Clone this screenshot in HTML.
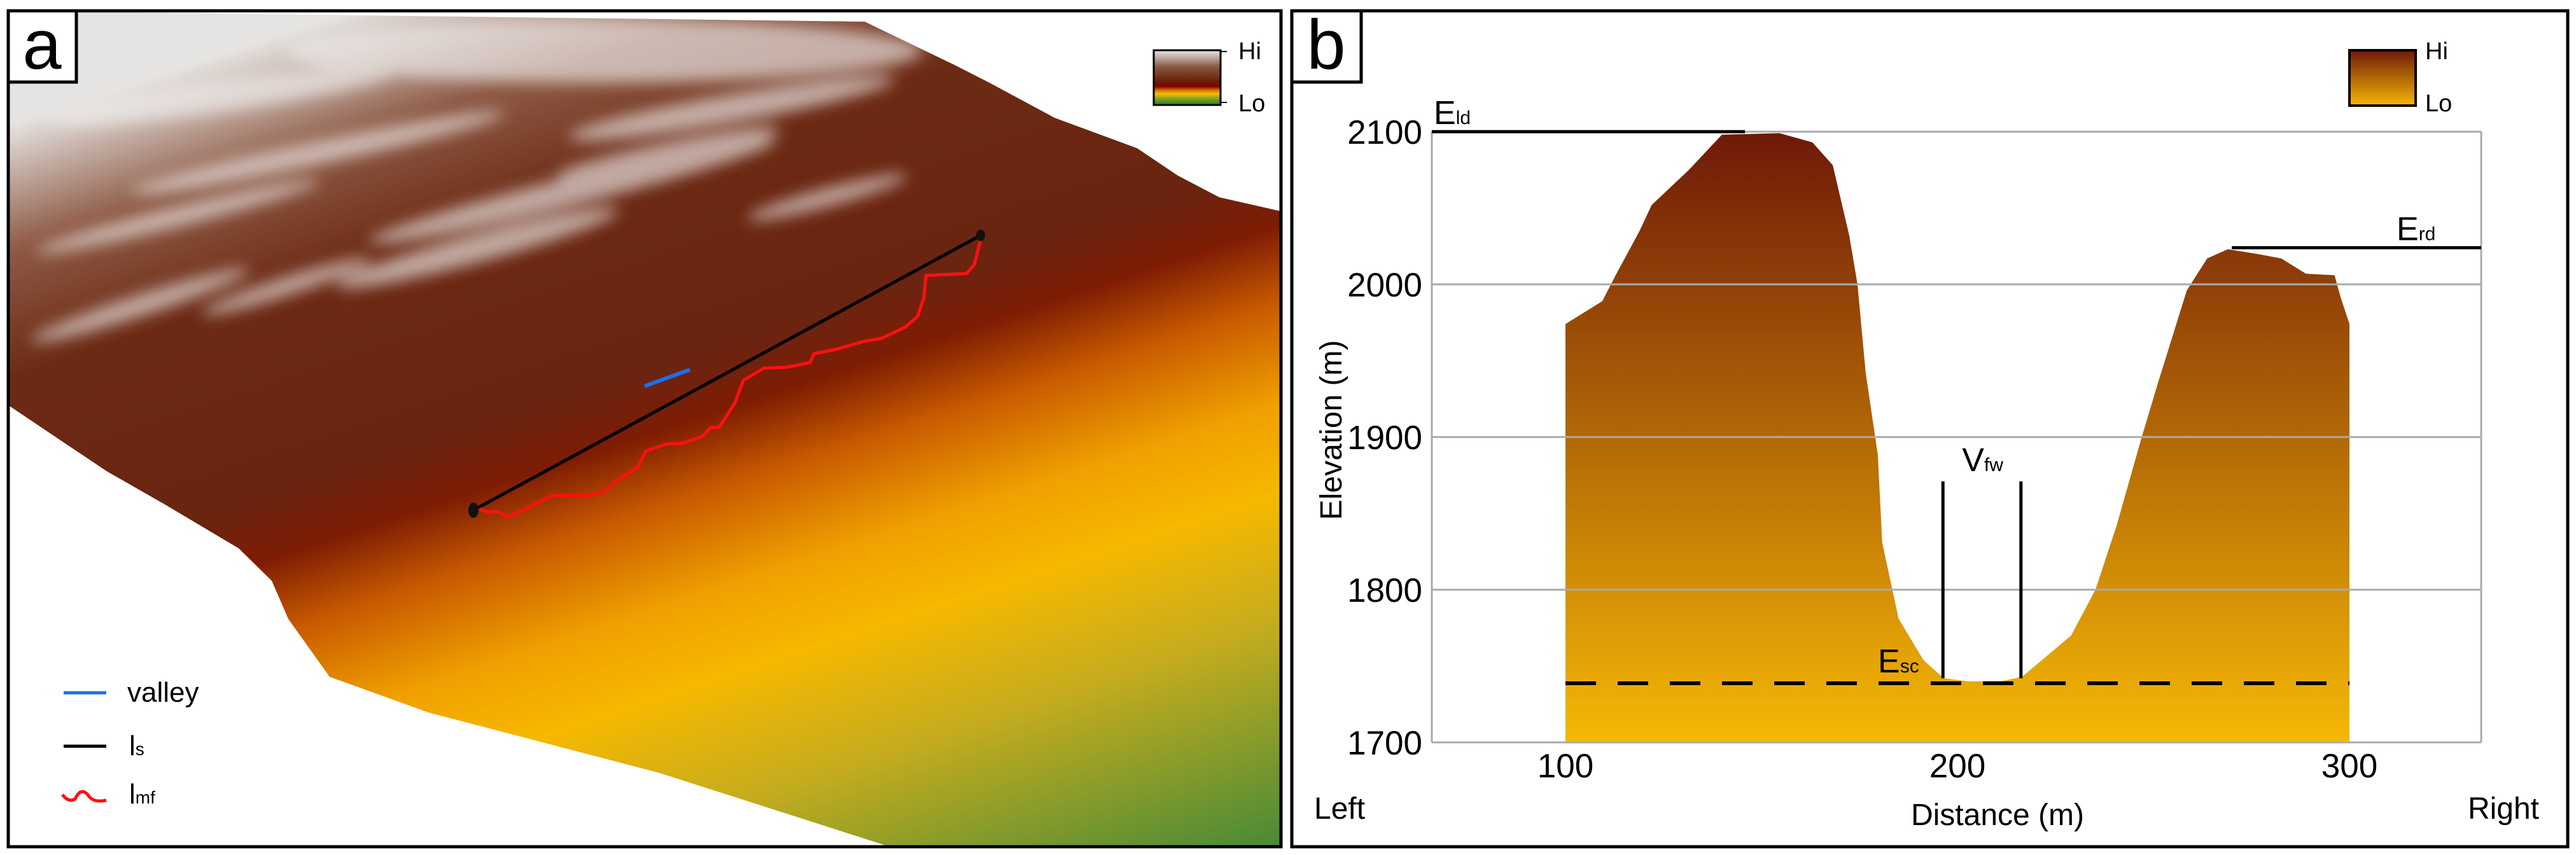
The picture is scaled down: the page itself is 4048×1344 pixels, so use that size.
<!DOCTYPE html>
<html><head><meta charset="utf-8"><title>Valley figure</title>
<style>
html,body{margin:0;padding:0;background:#fff;}
svg{display:block;font-family:"Liberation Sans",Arial,sans-serif;}
</style></head>
<body>
<svg id="fig" width="4048" height="1344" viewBox="0 0 4048 1344" xmlns="http://www.w3.org/2000/svg">
<defs>
  <linearGradient id="terr" gradientUnits="userSpaceOnUse" x1="0" y1="0" x2="597" y2="1803">
    <stop offset="0.10" stop-color="#e6e4e2"/>
    <stop offset="0.20" stop-color="#8e5a45"/>
    <stop offset="0.30" stop-color="#6c2a14"/>
    <stop offset="0.46" stop-color="#6a2410"/>
    <stop offset="0.51" stop-color="#7e1c04"/>
    <stop offset="0.57" stop-color="#c85a00"/>
    <stop offset="0.65" stop-color="#f0a000"/>
    <stop offset="0.72" stop-color="#f6b800"/>
    <stop offset="0.82" stop-color="#c6ac1e"/>
    <stop offset="1.0" stop-color="#478a38"/>
  </linearGradient>
  <linearGradient id="legA" x1="0" y1="0" x2="0" y2="1">
    <stop offset="0" stop-color="#e8e8e8"/>
    <stop offset="0.3" stop-color="#8a5a45"/>
    <stop offset="0.55" stop-color="#6a2208"/>
    <stop offset="0.66" stop-color="#800000"/>
    <stop offset="0.74" stop-color="#e08000"/>
    <stop offset="0.8" stop-color="#f0c000"/>
    <stop offset="0.88" stop-color="#90a020"/>
    <stop offset="1" stop-color="#108a20"/>
  </linearGradient>
  <linearGradient id="legB" x1="0" y1="0" x2="0" y2="1">
    <stop offset="0" stop-color="#6e1a08"/>
    <stop offset="1" stop-color="#f5b505"/>
  </linearGradient>
  <linearGradient id="profGrad" gradientUnits="userSpaceOnUse" x1="0" y1="204" x2="0" y2="1167">
    <stop offset="0" stop-color="#6e1808"/>
    <stop offset="1" stop-color="#f6b805"/>
  </linearGradient>
  <filter id="blur"><feGaussianBlur stdDeviation="12"/></filter>
  <clipPath id="terrClip"><path id="terrPathClip" d=""/></clipPath>
</defs>

<!-- PANEL A -->
<g>
  <rect x="13" y="17" width="2000" height="1314" fill="#fff" stroke="none"/>
  <g clip-path="url(#terrClip)">
    <path id="terrFill" d="" fill="url(#terr)"/>
    <g filter="url(#blur)" fill="#f0eeee" opacity="0.65">
      <ellipse cx="950" cy="80" rx="500" ry="50"/>
      <ellipse cx="350" cy="150" rx="280" ry="25" transform="rotate(-8 350 150)"/>
      <ellipse cx="1150" cy="170" rx="260" ry="22" transform="rotate(-10 1150 170)"/>
      <ellipse cx="500" cy="240" rx="300" ry="18" transform="rotate(-12 500 240)"/>
      <ellipse cx="900" cy="300" rx="330" ry="22" transform="rotate(-14 900 300)"/>
      <ellipse cx="280" cy="340" rx="230" ry="15" transform="rotate(-14 280 340)"/>
      <ellipse cx="750" cy="390" rx="230" ry="22" transform="rotate(-15 750 390)"/>
      <ellipse cx="1300" cy="310" rx="130" ry="14" transform="rotate(-15 1300 310)"/>
      <ellipse cx="220" cy="480" rx="180" ry="16" transform="rotate(-18 220 480)"/>
      <ellipse cx="450" cy="450" rx="140" ry="14" transform="rotate(-18 450 450)"/>
      <ellipse cx="1050" cy="240" rx="180" ry="16" transform="rotate(-12 1050 240)"/>
    </g>
  </g>
  <rect x="13" y="17" width="2000" height="1314" fill="none" stroke="#000" stroke-width="5"/>
  <rect x="13" y="17" width="107" height="112" fill="#fff" stroke="#000" stroke-width="5"/>
  <text x="66" y="108" font-size="110" text-anchor="middle">a</text>
  <line id="lsLine" stroke="#000" stroke-width="5"/>
  <polyline id="lmfLine" fill="none" stroke="#ff1010" stroke-width="5" stroke-linejoin="round"/>
  <line id="valleyLine" stroke="#1a6ff0" stroke-width="6"/>
  <ellipse id="dot1" rx="8" ry="12" fill="#111"/>
  <ellipse id="dot2" rx="7" ry="9" fill="#111"/>
  <g>
    <line x1="100" y1="1089" x2="167" y2="1089" stroke="#1a6ff0" stroke-width="5"/>
    <text x="200" y="1103" font-size="44">valley</text>
    <line x1="100" y1="1173" x2="167" y2="1173" stroke="#000" stroke-width="5"/>
    <text x="203" y="1187" font-size="44">l<tspan font-size="28">s</tspan></text>
    <path d="M98,1249 Q108,1262 118,1256 Q128,1235 140,1252 Q148,1262 167,1258" fill="none" stroke="#ff1010" stroke-width="5"/>
    <text x="203" y="1263" font-size="44">l<tspan font-size="28">mf</tspan></text>
  </g>
  <g>
    <rect x="1813" y="79" width="105" height="86" fill="url(#legA)" stroke="#000" stroke-width="3"/>
    <line x1="1918" y1="81" x2="1928" y2="81" stroke="#000" stroke-width="2"/>
    <line x1="1918" y1="161" x2="1928" y2="161" stroke="#000" stroke-width="2"/>
    <text x="1946" y="93" font-size="38">Hi</text>
    <text x="1946" y="175" font-size="38">Lo</text>
  </g>
</g>

<!-- PANEL B -->
<g>
  <rect x="2030" y="17" width="2005" height="1314" fill="#fff" stroke="#000" stroke-width="5"/>
  <rect x="2030" y="17" width="109" height="112" fill="#fff" stroke="#000" stroke-width="5"/>
  <text x="2084" y="108" font-size="110" text-anchor="middle">b</text>
  <g id="plotB"></g>
  <g>
    <rect x="3692" y="79" width="104" height="87" fill="url(#legB)" stroke="#000" stroke-width="4"/>
    <text x="3811" y="93" font-size="38">Hi</text>
    <text x="3811" y="175" font-size="38">Lo</text>
  </g>
  <text x="2065" y="1287" font-size="48">Left</text>
  <text x="3990" y="1287" font-size="48" text-anchor="end">Right</text>
  <text x="3139" y="1297" font-size="48" text-anchor="middle">Distance (m)</text>
  <text transform="translate(2108 676) rotate(-90)" font-size="48" text-anchor="middle">Elevation (m)</text>
</g>

<script>
// ---- Panel A map geometry ----
const terrainOutlineX = [13,1359,1502,1553,1657,1787,1851,1916,2013,2013,1398,1036,673,518,453,427,375,259,168,65,13];
const terrainOutlineY = [17,34,103,129,185,233,276,310,332,1331,1331,1215,1120,1064,973,913,862,793,741,672,637];
const lsX = [744,1541];
const lsY = [802,370];
const lmfX = [753,766,782,798,830,868,925,951,970,1002,1015,1047,1072,1104,1117,1130,1155,1168,1200,1238,1273,1279,1315,1356,1385,1423,1442,1452,1455,1519,1531,1541];
const lmfY = [800,805,804,813,798,779,779,772,755,735,709,698,697,686,672,672,633,598,579,577,570,556,549,537,532,514,497,468,433,430,416,377];
const valleyX = [1013,1084];
const valleyY = [607,581];

// ---- Panel B profile data ----
const distances = [100,109.4,112.6,118.9,122,131.5,139.9,154.6,163,168.2,172.4,174.5,176.6,179.7,180.8,183.4,185,191.3,196.5,202.8,211.2,216.5,229,235.2,240.6,246.9,251.1,258.5,263.7,269,276.3,282.6,288.9,296.2,297.7,300];
const elevations = [1974,1989,2005,2035,2052,2075,2098,2099,2093,2078,2032,2000,1942,1888,1831,1800,1781,1754,1742,1740,1740,1743,1770,1800,1842,1899,1935,1996,2017,2023,2020,2017,2007,2006,1992,1974];
const yTicks = [1700,1800,1900,2000,2100];
const xTicks = [100,200,300];
const eldElev = 2100, eldEnd = 145.8;
const erdElev = 2024, erdStart = 270;
const escElev = 1740;
const vfwLeft = 196.3, vfwRight = 216.2, vfwTop = 1871, vfwBottom = 1742;

const NS = "http://www.w3.org/2000/svg";
const X = d => 2460 + (d - 100) * 6.16;
const Y = e => 1167 - (e - 1700) * 2.4;
const PL = 2250, PR = 3899;

// Panel A
let td = terrainOutlineX.map((x,i)=>(i?'L':'M')+x+','+terrainOutlineY[i]).join(' ')+' Z';
document.getElementById('terrFill').setAttribute('d', td);
document.getElementById('terrPathClip').setAttribute('d', td);
const ls = document.getElementById('lsLine');
ls.setAttribute('x1', lsX[0]); ls.setAttribute('y1', lsY[0]);
ls.setAttribute('x2', lsX[1]); ls.setAttribute('y2', lsY[1]);
document.getElementById('lmfLine').setAttribute('points', lmfX.map((x,i)=>x+','+lmfY[i]).join(' '));
const vl = document.getElementById('valleyLine');
vl.setAttribute('x1', valleyX[0]); vl.setAttribute('y1', valleyY[0]);
vl.setAttribute('x2', valleyX[1]); vl.setAttribute('y2', valleyY[1]);
const d1 = document.getElementById('dot1'); d1.setAttribute('cx', lsX[0]); d1.setAttribute('cy', lsY[0]);
const d2 = document.getElementById('dot2'); d2.setAttribute('cx', lsX[1]); d2.setAttribute('cy', lsY[1]);

// Panel B
const g = document.getElementById('plotB');
function mk(tag, attrs, parent) {
  const el = document.createElementNS(NS, tag);
  for (const k in attrs) el.setAttribute(k, attrs[k]);
  (parent || g).appendChild(el);
  return el;
}
function subLabel(x, y, main, sub) {
  const t = mk('text', {x: x, y: y, 'font-size': 52});
  t.appendChild(document.createTextNode(main));
  const s = document.createElementNS(NS, 'tspan');
  s.setAttribute('font-size', '30');
  s.textContent = sub;
  t.appendChild(s);
  return t;
}
// profile area
let pd = 'M' + X(distances[0]) + ',' + Y(1700);
distances.forEach((d,i)=>{ pd += ' L' + X(d) + ',' + Y(elevations[i]); });
pd += ' L' + X(distances[distances.length-1]) + ',' + Y(1700) + ' Z';
const area = mk('path', {d: pd, fill: 'url(#profGrad)'});


// gridlines & ticks
yTicks.forEach(t=>{
  const ln = mk('line', {x1: PL, x2: PR, y1: Y(t), y2: Y(t), stroke: '#aaaaaa', 'stroke-width': 3});
  
  
  const tx = mk('text', {x: 2235, y: Y(t) + 19, 'font-size': 53, 'text-anchor': 'end'});
  tx.textContent = t;
  
  
});
const frL = mk('line', {x1: PL, x2: PL, y1: Y(2100), y2: Y(1700), stroke: '#aaaaaa', 'stroke-width': 3});


const frR = mk('line', {x1: PR, x2: PR, y1: Y(2100), y2: Y(1700), stroke: '#aaaaaa', 'stroke-width': 3});


xTicks.forEach(t=>{
  const tx = mk('text', {x: X(t), y: 1222, 'font-size': 53, 'text-anchor': 'middle'});
  tx.textContent = t;
  
  
});
// E_ld
const eld = mk('line', {x1: PL, x2: X(eldEnd), y1: Y(eldElev), y2: Y(eldElev), stroke: '#000', 'stroke-width': 5});


const eldT = subLabel(2253, Y(eldElev) - 12, 'E', 'ld');


// E_rd
const erd = mk('line', {x1: X(erdStart), x2: PR, y1: Y(erdElev), y2: Y(erdElev), stroke: '#000', 'stroke-width': 5});


const erdT = subLabel(3766, Y(erdElev) - 12, 'E', 'rd');


// E_sc dashed
const esc = mk('line', {x1: X(distances[0]), x2: X(distances[distances.length-1]), y1: Y(escElev) + 3, y2: Y(escElev) + 3, stroke: '#000', 'stroke-width': 6, 'stroke-dasharray': '48 34'});


const escT = subLabel(2951, Y(escElev) - 14, 'E', 'sc');


// V_fw
[vfwLeft, vfwRight].forEach((d,i)=>{
  const v = mk('line', {x1: X(d), x2: X(d), y1: Y(vfwTop), y2: Y(vfwBottom), stroke: '#000', 'stroke-width': 5});
  
  
});
const vT = subLabel(X(vfwLeft) + 30, Y(vfwTop) - 16, 'V', 'fw');


</script>
</svg>
</body></html>
